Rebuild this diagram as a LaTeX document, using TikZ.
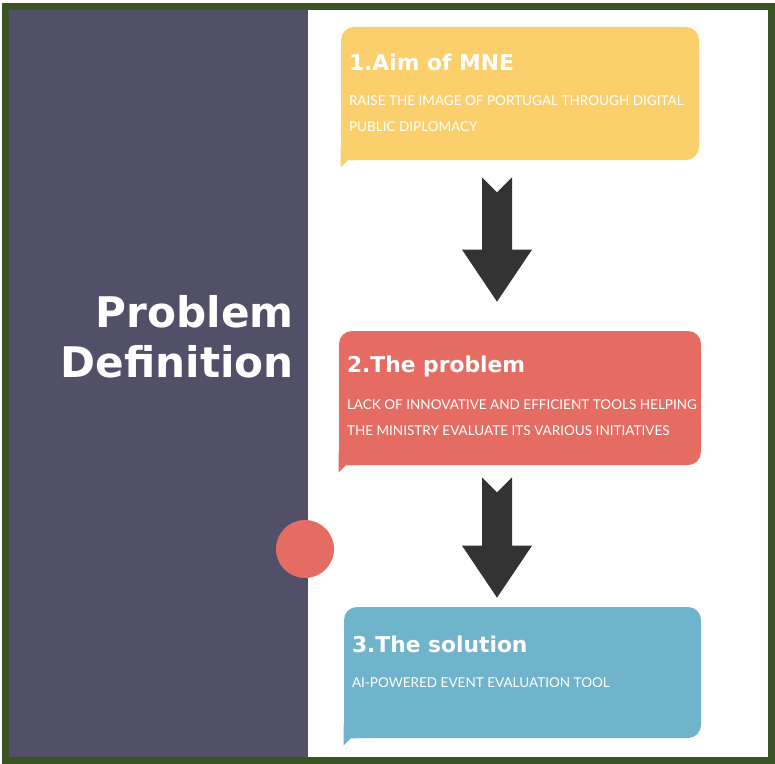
\documentclass[tikz,border=0pt]{standalone}
\usepackage{fontspec}
\setmainfont{Lato}
\newfontfamily\headfont{DejaVu Sans}
\usepackage{xcolor}
\usetikzlibrary{positioning, calc}

\definecolor{framegreen}{RGB}{58,85,35}
\definecolor{panelgrey}{RGB}{82,80,104}
\definecolor{aimyellow}{RGB}{251,208,108}
\definecolor{problemred}{RGB}{229,108,98}
\definecolor{solutionblue}{RGB}{112,180,204}
\definecolor{arrowgrey}{RGB}{51,51,51}

% block arrow with a notched tail, from #1 (tail) down to #2 (tip)
\newcommand{\blockarrow}[2]{%
  \fill[arrowgrey] ($(#1)+(-15,0)$) -- ($(#1)+(0,15)$) -- ($(#1)+(15,0)$)
    -- ($(#2)+(15,-52)$) -- ($(#2)+(35,-52)$) -- (#2)
    -- ($(#2)+(-35,-52)$) -- ($(#2)+(-15,-52)$) -- cycle;}

\begin{document}
\begin{tikzpicture}[x=0.2mm, y=-0.2mm,
  box/.style={rounded corners=2.6mm, inner sep=0pt},
  boxtitle/.style={anchor=base west, inner sep=0pt, text=white,
    font=\headfont\bfseries\fontsize{12.4}{14}\selectfont},
  boxtext/.style={anchor=base west, inner sep=0pt, text=white, align=left,
    font=\fontsize{7.7}{14.74}\selectfont},
  heading/.style={anchor=base east, inner sep=0pt, text=white, align=right,
    font=\headfont\bfseries\fontsize{24}{28.45}\selectfont}]
\useasboundingbox (0,0) rectangle (775,763);

% left panel and frame
\fill[panelgrey] (9,10) rectangle (308,757);
\draw[framegreen, line width=1.4mm] (5.5,6.5) rectangle (771.5,760.5);
\fill[problemred] (305,549) circle (29);

% base of a two-line node sits on its last line
\node[heading] (heading) at (294,377) {Problem\\Definition};

% the three steps
\node[box, fill=aimyellow, minimum width=71.6mm, minimum height=26.6mm] (aim) at (520,93.5) {};
\node[box, fill=problemred, minimum width=72.4mm, minimum height=26.8mm] (problem) at (520,398) {};
\node[box, fill=solutionblue, minimum width=71.4mm, minimum height=26.2mm] (solution) at (522.5,672.5) {};

% square corner and small tail at the bottom left
\foreach \n/\c in {aim/aimyellow, problem/problemred, solution/solutionblue} {
  \fill[\c] ($(\n.south west)+(0,-14)$) -- ($(\n.south west)+(0,7)$)
    -- ($(\n.south west)+(7,0)$) -- ($(\n.south west)+(14,0)$)
    -- ($(\n.south west)+(14,-14)$) -- cycle;
}

\node[boxtitle] (aimtitle) at ($(aim.north west)+(8,44)$) {1.Aim of MNE};
\node[boxtext] (aimtext) at ($(aim.north west)+(8,105)$)
  {RAISE THE IMAGE OF PORTUGAL THROUGH DIGITAL\\PUBLIC DIPLOMACY};

\node[boxtitle] (problemtitle) at ($(problem.north west)+(8,42)$) {2.The problem};
\node[boxtext] (problemtext) at ($(problem.north west)+(8,105)$)
  {LACK OF INNOVATIVE AND EFFICIENT TOOLS HELPING\\THE MINISTRY EVALUATE ITS VARIOUS INITIATIVES};

\node[boxtitle] (solutiontitle) at ($(solution.north west)+(8,46)$) {3.The solution};
\node[boxtext] (solutiontext) at ($(solution.north west)+(8,81)$)
  {AI-POWERED EVENT EVALUATION TOOL};

% arrows between the steps
\coordinate (arrowa) at ($(aim.south)+(-23,17)$);
\coordinate (arrowatip) at ($(problem.north)+(-23,-29)$);
\coordinate (arrowb) at ($(problem.south)+(-23,12)$);
\coordinate (arrowbtip) at ($(solution.north)+(-25.5,-9)$);
\blockarrow{arrowa}{arrowatip}
\blockarrow{arrowb}{arrowbtip}
\end{tikzpicture}
\end{document}
